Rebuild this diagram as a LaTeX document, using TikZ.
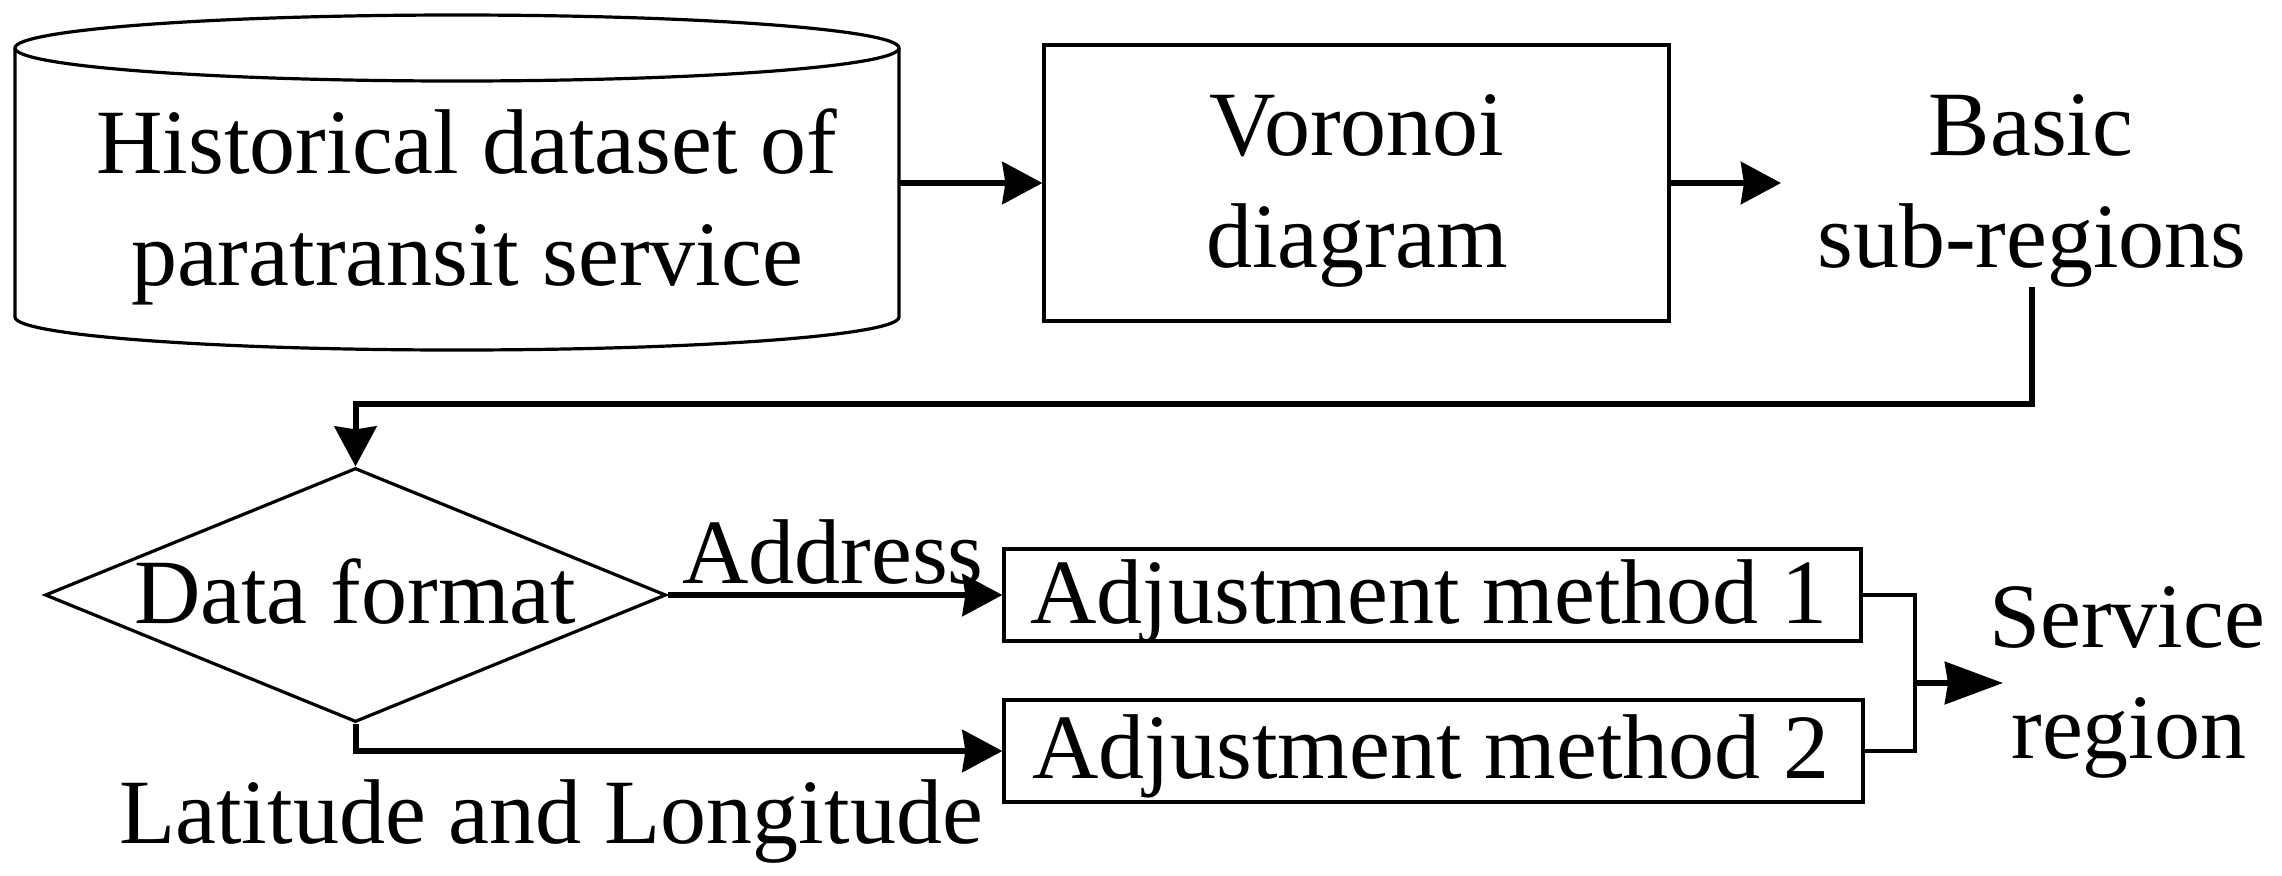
\documentclass[tikz,border=0pt]{standalone}
\usepackage{fontspec}
\setmainfont{Liberation Serif}
\usetikzlibrary{arrows.meta,shapes.geometric}
\begin{document}
\begin{tikzpicture}[x=0.5pt,y=-0.5pt,
  thinline/.style={line width=1.6pt},
  box/.style={draw,thinline,rectangle,inner sep=0pt},
  txt/.style={font=\fontsize{46pt}{56pt}\selectfont,inner sep=0pt,anchor=base},
  conn/.style={line width=3pt,-{Stealth[length=20pt,width=21pt,inset=1.5pt]}},
  joinline/.style={line width=2.4pt}]
\useasboundingbox (0,0) rectangle (2282,875);
% cylinder (database)
\draw[thinline] (15,48) -- (15,317) arc[start angle=180,end angle=360,x radius=221pt,y radius=16.5pt] -- (899,48);
\draw[thinline] (457,48) ellipse[x radius=221pt,y radius=16.5pt];
\node[inner sep=0pt,minimum width=442pt,minimum height=167.5pt] (cyl) at (457,183) {};
\node[txt] (hist1) at (467,173) {Historical dataset of};
\node[txt] (hist2) at (467,285) {paratransit service};
% Voronoi box
\node[box,minimum width=312.5pt,minimum height=138pt] (voronoi) at (1356.5,183) {};
\node[txt] (vor1) at (1357,155) {Voronoi};
\node[txt] (vor2) at (1357,267) {diagram};
% Basic sub-regions
\coordinate (basicin) at (1781,183);
\node[txt] (basic) at (2031,155) {Basic};
\node[txt] (subreg) at (2032,267) {sub-regions};
\coordinate (turn) at (2032,404);
% decision
\node[draw,thinline,diamond,inner sep=0pt,minimum width=310.5pt,minimum height=127pt] (fmt) at (355.5,595) {};
\node[txt] (fmttxt) at (355,623) {Data format};
% adjustment boxes
\node[box,minimum width=428.5pt,minimum height=46pt] (adj1) at (1432.5,595) {};
\node[txt] (adj1txt) at (1429,623) {Adjustment method 1};
\node[box,minimum width=429.5pt,minimum height=51pt] (adj2) at (1433.5,751) {};
\node[txt] (adj2txt) at (1431,778) {Adjustment method 2};
% labels
\node[txt] (addr) at (833,583) {Address};
\node[txt] (latlon) at (551,843) {Latitude and Longitude};
% service region
\node[txt] (svc1) at (2127,647) {Service};
\node[txt] (svc2) at (2129,758) {region};
\coordinate (junc) at (1915,683);
\coordinate (svcin) at (2003,683);
% connectors
\draw[conn] (cyl.east) -- (voronoi.west);
\draw[conn] (voronoi.east) -- (basicin);
\draw[conn] (subreg.south) -- (subreg.south |- turn) -| (fmt.north);
\draw[conn] (fmt.east) -- (adj1.west);
\draw[conn] (fmt.south) |- (adj2.west);
\draw[joinline] (adj1.east) -| (junc |- adj2.east) -- (adj2.east);
\draw[conn,-{Stealth[length=29pt,width=21pt,inset=1.5pt]}] (junc) -- (svcin);
\end{tikzpicture}
\end{document}
